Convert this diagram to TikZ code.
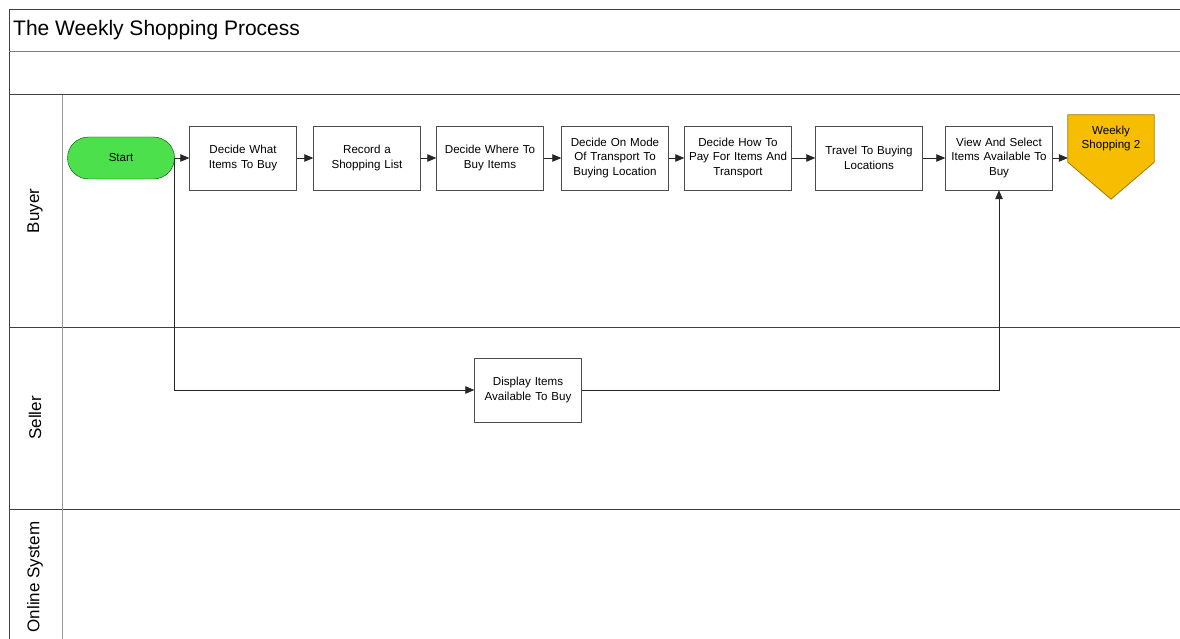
\documentclass[tikz,border=0pt]{standalone}
\usepackage{fontspec}
\setmainfont{Liberation Sans}
\usetikzlibrary{arrows.meta,calc,backgrounds}
\definecolor{startgreen}{HTML}{4CE04C}
\definecolor{pagegold}{HTML}{F7BD00}
\tikzset{
  lane/.style={draw=black!75, line width=1pt},
  task/.style={draw=black!70, fill=white, minimum width=107, minimum height=64,
    text width=106, align=center, inner sep=0pt, font=\fontsize{11.6}{14.5}\selectfont},
  terminal/.style={task, rounded corners=21, fill=startgreen, draw=green!30!black, minimum height=42},
  lanelabel/.style={rotate=90, font=\fontsize{17}{20}\selectfont},
  flow/.style={draw=black!85, line width=0.8pt, -{Triangle[length=9,width=7.5]}},
}
\begin{document}
\begin{tikzpicture}[x=1pt, y=-1pt]
    \useasboundingbox (0,0) rectangle (1180,639);

    % pool and lanes
    \draw[lane] (1180,10) -- (9,10) -- (9,639);
    \draw[lane, draw=black!50] (9,52) -- (1180,52);
    \draw[lane] (9,95) -- (1180,95);
    \draw[lane] (9,327) -- (1180,327);
    \draw[lane] (9,509) -- (1180,509);
    \draw[lane, draw=black!40] (62,95) -- (62,639);

    \node[anchor=west, inner sep=0pt, font=\fontsize{21}{24}\selectfont] (title) at (13,30) {The Weekly Shopping Process};
    \node[lanelabel] (buyer) at (35,211) {Buyer};
    \node[lanelabel] (seller) at (35,418) {Seller};
    \node[lanelabel] (online) at (35,577) {Online System};

    % buyer lane
    \node[terminal] (start) at (121,158) {Start};
    \node[task] (decide) at (243,158) {Decide What\\Items To Buy};
    \node[task] (record) at (367,158) {Record a\\Shopping List};
    \node[task] (where) at (490,158) {Decide Where To\\Buy Items};
    \node[task] (mode) at (615,158) {Decide On Mode\\Of Transport To\\Buying Location};
    \node[task] (pay) at (738,158) {Decide How To\\Pay For Items And\\Transport};
    \node[task] (travel) at (869,158) {Travel To Buying\\Locations};
    \node[task] (view) at (999,158) {View And Select\\Items Available To\\Buy};
    \node[align=center, inner sep=0pt, minimum width=86, minimum height=47,
      font=\fontsize{11.6}{14.5}\selectfont] (ws) at (1111,138.5) {Weekly\\Shopping 2};
    \begin{scope}[on background layer]
    \filldraw[fill=pagegold, draw=pagegold!65!black, line width=0.8pt]
      (ws.north west) -- (ws.north east) -- (ws.south east)
      -- ($(ws.south)+(0,37)$) -- (ws.south west) -- cycle;
    \end{scope}

    % seller lane
    \node[task] (display) at (528,390) {Display Items\\Available To Buy};

    \draw[flow] (start) -- (decide);
    \draw[flow] (decide) -- (record);
    \draw[flow] (record) -- (where);
    \draw[flow] (where) -- (mode);
    \draw[flow] (mode) -- (pay);
    \draw[flow] (pay) -- (travel);
    \draw[flow] (travel) -- (view);
    \draw[flow] (view) -- (view -| ws.west);
    \draw[flow] (start.east) |- (display);
    \draw[flow] (display) -| (view);

\end{tikzpicture}
\end{document}
